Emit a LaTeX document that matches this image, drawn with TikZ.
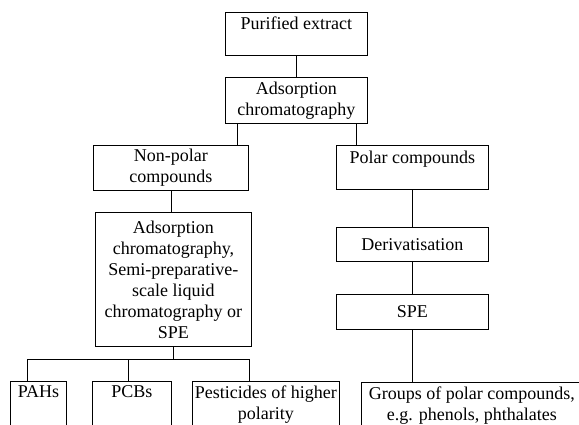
\documentclass[tikz,border=0pt]{standalone}
\usepackage{fontspec}
\setmainfont{Liberation Serif}
\usetikzlibrary{positioning}

\begin{document}
\begin{tikzpicture}[
    x=1pt,
    y=-1pt,
    every node/.style={font=\fontsize{18}{21}\selectfont},
    box/.style={draw,line width=0.9pt,anchor=north west,align=center,
        inner xsep=2pt,inner ysep=4pt},
    link/.style={line width=0.9pt}
]

% Page frame
\clip (0,0) rectangle (579,425);

% Top of the scheme
\node[box,minimum width=142,minimum height=43] (pure) at (225,12)
    {Purified extract\\\mbox{}};
\node[box,minimum width=142,minimum height=46] (ads) at (225,77)
    {Adsorption\\chromatography};

% Non-polar branch
\node[box,minimum width=155,minimum height=45] (nonpol) at (93,145)
    {Non-polar\\compounds};
\node[box,minimum width=156,minimum height=134] (bigads) at (95,212)
    {Adsorption\\chromatography,\\Semi-preparative-\\scale liquid\\chromatography or\\SPE};

% Polar branch
\node[box,minimum width=152,minimum height=44] (polar) at (336,145)
    {Polar compounds\\\mbox{}};
\node[box,minimum width=152,minimum height=34] (deriv) at (336,227)
    {Derivatisation};
\node[box,minimum width=152,minimum height=35] (spe) at (336,294)
    {SPE};

% Fractions (cut by the page edge)
\node[box,minimum width=56] (pahs) at (10,381)
    {PAHs\\\mbox{}\\\mbox{}};
\node[box,minimum width=79] (pcbs) at (92,381)
    {PCBs\\\mbox{}\\\mbox{}};
\node[box,minimum width=147] (pest) at (192,381)
    {Pesticides of higher\\polarity\\\mbox{}};
\node[box,minimum width=221] (groups) at (361,382)
    {Groups of polar compounds,\\e.g. phenols, phthalates\\\mbox{}};

% Connectors
\coordinate (adsL) at ([xshift=12]ads.south west);
\coordinate (adsR) at ([xshift=-11]ads.south east);
\coordinate (bus) at (0,359);
\coordinate (dropA) at ([xshift=17]pahs.north west);
\coordinate (dropB) at ([xshift=36]pcbs.north west);
\coordinate (dropC) at ([xshift=57]pest.north west);

\draw[link] (pure) -- (ads);
\draw[link] (adsL) -- (adsL |- nonpol.north);
\draw[link] (adsR) -- (adsR |- polar.north);
\draw[link] (nonpol.south) -- (nonpol.south |- bigads.north);
\draw[link] (bigads.south) -- (bigads.south |- bus);
\draw[link] (dropA) |- (dropC |- bus) -- (dropC);
\draw[link] (dropB) -- (dropB |- bus);
\draw[link] (polar) -- (deriv);
\draw[link] (deriv) -- (spe);
\draw[link] (spe.south) -- (spe.south |- groups.north);

\end{tikzpicture}
\end{document}
